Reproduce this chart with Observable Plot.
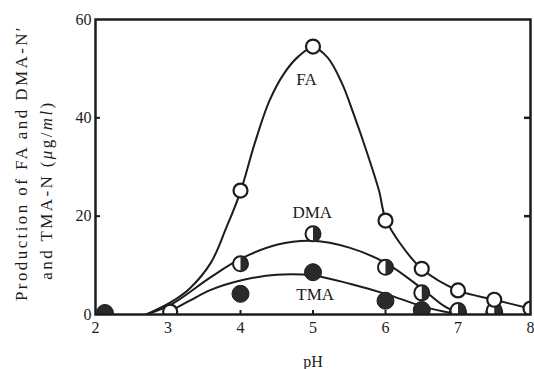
<!DOCTYPE html>
<html><head><meta charset="utf-8">
<script src="https://cdn.jsdelivr.net/npm/d3@7"></script>
<script src="https://cdn.jsdelivr.net/npm/@observablehq/plot@0.6"></script>
<style>body{margin:0;background:#fff} svg{display:block}</style>
</head><body><div id="chart"></div>
<script>
// Measured points
const faX  = [3.03, 4, 5, 6, 6.5, 7, 7.5, 8];
const faY  = [0.6, 25.2, 54.5, 19.1, 9.3, 4.9, 3.0, 1.2];
const dmaX = [4, 5, 6, 6.5, 7, 7.5];
const dmaY = [10.3, 16.4, 9.6, 4.4, 0.8, 0.8];
const tmaX = [2.13, 4, 5, 6, 6.5, 7, 7.5];
const tmaY = [0.3, 4.2, 8.6, 2.8, 0.9, 0.3, 0.3];

// Fitted curves
const faCurveX  = [2.7, 3.04, 3.3, 3.59, 3.8, 4.0, 4.2, 4.4, 4.6, 4.8, 5.0, 5.2, 5.4, 5.56, 5.75, 5.91, 6.0, 6.2, 6.5, 7, 7.5, 8];
const faCurveY  = [0, 2.5, 5.3, 10.5, 17.5, 25, 35, 43.5, 49, 52.5, 54.3, 52.3, 47, 40.8, 32.7, 25.2, 19.5, 14.5, 9.3, 4.9, 3.0, 1.2];
const dmaCurveX = [2.7, 3.04, 3.59, 4.0, 4.5, 5.0, 5.5, 6.0, 6.5, 6.8, 7.05];
const dmaCurveY = [0, 2.0, 7.6, 11.3, 14.2, 15.0, 13.6, 10.5, 5.3, 1.8, 0];
const tmaCurveX = [2.95, 3.3, 3.59, 4.03, 4.5, 5.02, 5.52, 6.0, 6.48, 6.8, 7.1];
const tmaCurveY = [0, 2.8, 5.0, 7.0, 8.1, 7.9, 6.2, 4.2, 1.8, 0.6, 0];

// Curve labels
const labelText = ["FA", "DMA", "TMA"];
const labelX = [4.91, 4.99, 5.03];
const labelY = [47.8, 20.7, 4.1];

// Ticks
const xTicks = [2, 3, 4, 5, 6, 7, 8];
const xInnerTicks = [3, 4, 5, 6, 7];
const yTicks = [0, 20, 40, 60];
const yInnerTicks = [20, 40];

const xLabel = "pH";
const yLabel1 = "Production of FA and DMA-N\u2032";
const yLabel2 = "and TMA-N (\u03bcg/ml)";

const pts = (xs, ys) => xs.map((x, i) => ({x, y: ys[i]}));
const fa = pts(faX, faY), dma = pts(dmaX, dmaY), tma = pts(tmaX, tmaY);
const faC = pts(faCurveX, faCurveY), dmaC = pts(dmaCurveX, dmaCurveY), tmaC = pts(tmaCurveX, tmaCurveY);
const labels = labelText.map((t, i) => ({t, x: labelX[i], y: labelY[i]}));

const ink = "#1c1c1c";
const halfRight = {
  draw(context, size) {
    const r = Math.sqrt(size / Math.PI);
    context.moveTo(0, -r);
    context.arc(0, 0, r, -Math.PI / 2, Math.PI / 2);
    context.closePath();
  }
};

const chart = Plot.plot({
  width: 534,
  height: 369,
  marginLeft: 95,
  marginRight: 4,
  marginTop: 19,
  marginBottom: 55,
  style: {fontFamily: "Liberation Serif, DejaVu Serif, serif", fontSize: "16px", color: ink, background: "#fff"},
  x: {domain: [2, 8], label: null},
  y: {domain: [0, 60], label: null},
  marks: [
    Plot.axisX({ticks: xTicks, tickSize: 0, tickPadding: 7, tickFormat: d => d, fontSize: 16}),
    Plot.axisX({ticks: xInnerTicks, tickSize: -4, tickFormat: () => "", strokeWidth: 2}),
    Plot.axisY({ticks: yTicks, tickSize: 0, tickPadding: 4, tickFormat: d => d, fontSize: 16}),
    Plot.axisY({ticks: yInnerTicks, tickSize: -5, tickFormat: () => "", strokeWidth: 2}),
    Plot.axisY({anchor: "right", ticks: yInnerTicks, tickSize: -7, tickFormat: () => "", strokeWidth: 2.5}),
    Plot.line(faC, {x: "x", y: "y", curve: "catmull-rom", stroke: ink, strokeWidth: 2, clip: true}),
    Plot.line(dmaC, {x: "x", y: "y", curve: "catmull-rom", stroke: ink, strokeWidth: 2, clip: true}),
    Plot.line(tmaC, {x: "x", y: "y", curve: "catmull-rom", stroke: ink, strokeWidth: 2, clip: true}),
    Plot.dot(tma, {x: "x", y: "y", r: 8.5, fill: "#2a2a2a", stroke: ink, strokeWidth: 1, clip: true}),
    Plot.dot(dma, {x: "x", y: "y", r: 7.5, fill: "#fff", stroke: ink, strokeWidth: 2, clip: true}),
    Plot.dot(dma, {x: "x", y: "y", r: 7.5, symbol: halfRight, fill: "#2a2a2a", stroke: "none", clip: true}),
    Plot.dot(fa, {x: "x", y: "y", r: 7, fill: "#fff", stroke: ink, strokeWidth: 2.2, clip: true}),
    Plot.text(labels, {x: "x", y: "y", text: "t", fontSize: 17, fill: ink}),
    Plot.text([xLabel], {frameAnchor: "bottom", dy: 52, text: d => d, fontSize: 16, fill: ink}),
    Plot.text([yLabel1], {frameAnchor: "left", textAnchor: "middle", dx: -74, dy: -4, rotate: -90, text: d => d, fontSize: 17, fill: ink}),
    Plot.text([yLabel2], {frameAnchor: "left", textAnchor: "middle", dx: -49, dy: 23, rotate: -90, text: d => d, fontSize: 17, fill: ink}),
    Plot.frame({stroke: ink, strokeWidth: 2.5})
  ]
});

// letter spacing and italic units on the y label
chart.querySelectorAll("text").forEach(t => {
  const s = t.textContent;
  if (s === yLabel1 || s === yLabel2) {
    t.setAttribute("letter-spacing", "2.4px");
  }
  if (s === yLabel2) {
    const tspan = t.querySelector("tspan") || t;
    tspan.innerHTML = 'and TMA-N (<tspan font-style="italic">\u03bc</tspan>g/<tspan font-style="italic">ml</tspan>)';
  }
});
document.getElementById("chart").appendChild(chart);
</script>
</body></html>
